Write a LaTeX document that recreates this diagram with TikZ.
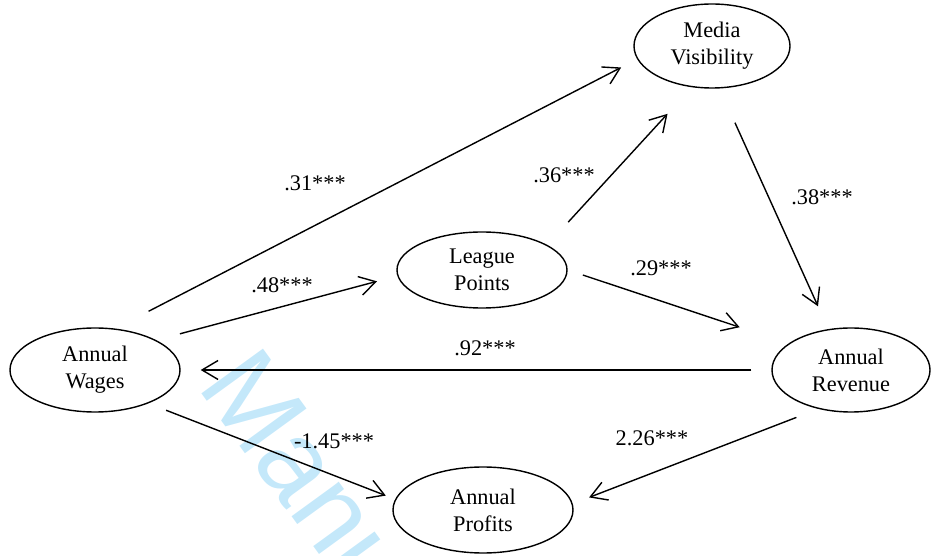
\documentclass[tikz,border=0pt]{standalone}
\usepackage{fontspec}
\setmainfont{Liberation Serif}
\newfontfamily\wmfont{Liberation Sans}
\usetikzlibrary{shapes.geometric,arrows.meta}
\definecolor{wmblue}{RGB}{196,232,250}
\tikzset{var/.style={draw, ellipse, line width=0.8pt, inner sep=0pt, align=center, font=\fontsize{12.7}{15.3}\selectfont}}
\tikzset{effect/.style={line width=0.8pt, -{Straight Barb[length=3.2mm,width=3.8mm]}}}
\tikzset{coef/.style={font=\fontsize{12.7}{15.3}\selectfont}}

\begin{document}
\begin{tikzpicture}
\useasboundingbox (0,0) rectangle (18.64,-11.12);
\begin{scope}
\clip (0,0) rectangle (18.64,-11.12);
\node[rotate=-54, anchor=base west, text=wmblue, font=\fontsize{63}{63}\selectfont\wmfont] (mark) at (3.86,-7.62) {Manuscript};
\end{scope}
% variables
\node[var, minimum width=3.4cm, minimum height=1.68cm] (wages) at (1.9,-7.4) {Annual\\Wages};
\node[var, minimum width=3.4cm, minimum height=1.52cm] (league) at (9.64,-5.4) {League\\Points};
\node[var, minimum width=3.12cm, minimum height=1.68cm] (vis) at (14.24,-0.92) {Media\\Visibility};
\node[var, minimum width=3.16cm, minimum height=1.68cm] (rev) at (17.02,-7.4) {Annual\\Revenue};
\node[var, minimum width=3.6cm, minimum height=1.72cm] (prof) at (9.66,-10.2) {Annual\\Profits};
% paths
\draw[effect, shorten <=0.75cm, shorten >=0.36cm] (wages.64.4) -- (vis.190.5);
\draw[effect, shorten <=0.49cm, shorten >=0.42cm] (wages.26.8) -- (league.184.6);
\draw[effect, shorten <=0.62cm, shorten >=0.72cm] (league.21.5) -- (vis.244.3);
\draw[effect, shorten <=0.32cm, shorten >=1.03cm] (league.east) -- (rev.157.1);
\draw[effect, shorten <=0.75cm, shorten >=0.5cm] (vis.280.2) -- (rev.119.5);
\draw[effect, shorten <=0.4cm, shorten >=0.4cm] (rev.west) -- (wages.east);
\draw[effect, shorten <=0.38cm, shorten >=0.2cm] (wages.-32.3) -- (prof.173.9);
\draw[effect, shorten <=0.47cm, shorten >=0.35cm] (rev.230.3) -- (prof.4.3);
% coefficients
\node[coef] (c1) at (6.3,-3.66) {.31***};
\node[coef] (c2) at (5.64,-5.7) {.48***};
\node[coef] (c3) at (11.28,-3.5) {.36***};
\node[coef] (c4) at (13.22,-5.36) {.29***};
\node[coef] (c5) at (16.44,-3.94) {.38***};
\node[coef] (c6) at (9.7,-6.96) {.92***};
\node[coef] (c7) at (6.68,-8.82) {-1.45***};
\node[coef] (c8) at (13.04,-8.76) {2.26***};
\end{tikzpicture}
\end{document}
